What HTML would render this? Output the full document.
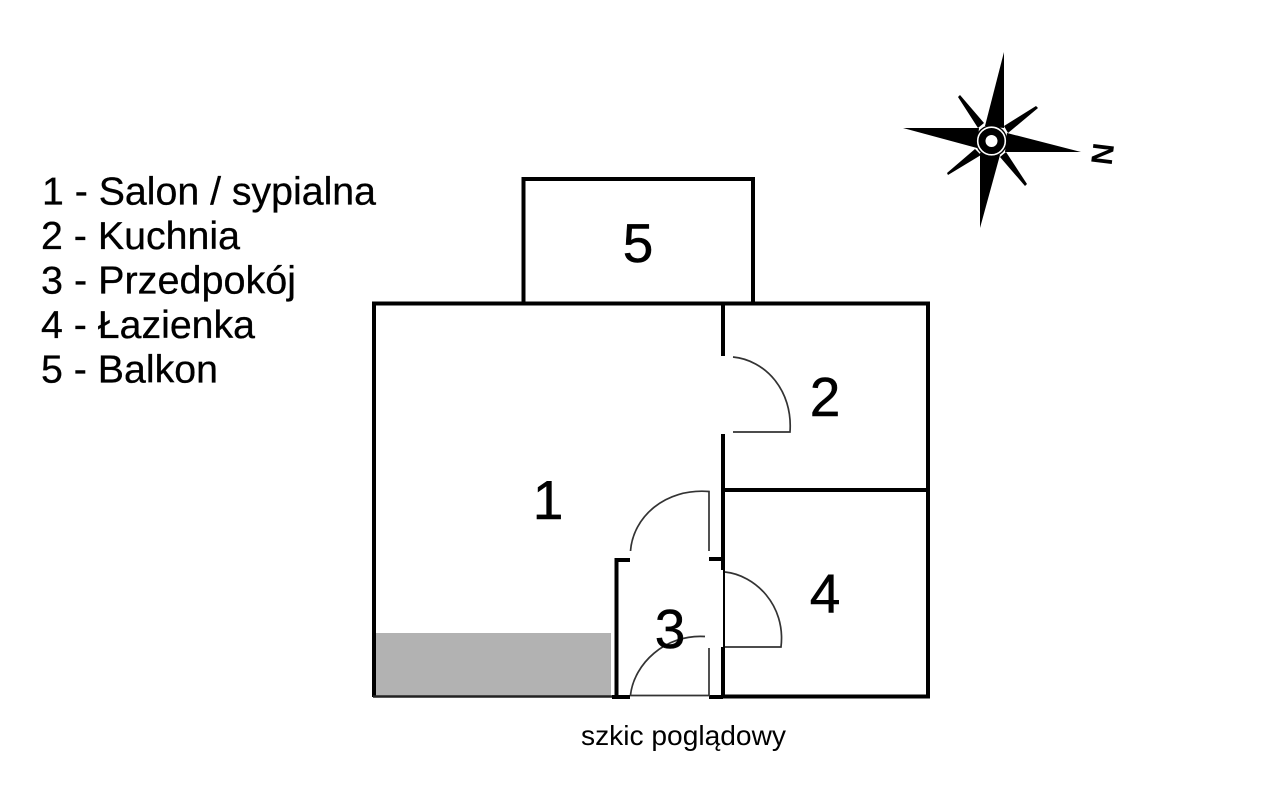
<!DOCTYPE html>
<html lang="pl">
<head>
<meta charset="utf-8">
<title>Szkic</title>
<style>
html,body{margin:0;padding:0;background:#fff;width:1280px;height:788px;overflow:hidden}
svg{display:block}
text{font-family:"Liberation Sans",sans-serif;fill:#000}
</style>
</head>
<body>
<svg width="1280" height="788" viewBox="0 0 1280 788" xmlns="http://www.w3.org/2000/svg">
  <rect x="375" y="633" width="236" height="63" fill="#b2b2b2"/>

  <g fill="none" stroke="#000" stroke-width="4">
    <rect x="523.5" y="179" width="229.5" height="124.5"/>
    <path d="M723 490H928M723 303.5H928V696.5H723"/>
    <path d="M374 697V303.5H723"/>
    <path d="M723 303V356"/>
    <path d="M723 434V570"/>
    <path d="M723 647V697"/>
    <path d="M630 560H616.500V697"/>
    <path d="M709 559H723"/>
    <path d="M612 697H630"/>
    <path d="M709 697H723"/>
  </g>
  <path d="M373 696.500H612" stroke="#222" stroke-width="2.500" fill="none"/>
  <path d="M724 570V648" stroke="#000" stroke-width="2" fill="none"/>

  <g fill="none" stroke="#333" stroke-width="1.700">
    <path d="M733 357C765 360 793 390 790 432H733"/>
    <path d="M630.500 551C633 517 665 488 709 491.500V551"/>
    <path d="M725 572C755 575 786 605 781 647H725"/>
    <path d="M630.500 695C634 664 665 634 705 636.500"/>
    <path d="M709 648V695.500H630"/>
  </g>

  <g fill="#000">
    <polygon points="1004,52 1004,128 985,126"/>
    <polygon points="903,128 979,128 977,148"/>
    <polygon points="1081,152 1005,152 1007,133"/>
    <polygon points="980,228 980,153 1000,155"/>
    <polygon points="958,97 960,95 984,123 978,128"/>
    <polygon points="1036,106 1038,108 1008,133 1004,126"/>
    <polygon points="947,173 948,175 981,155 975,149"/>
    <polygon points="1027,184 1025,186 1000,157 1006,152"/>
    <circle cx="991.500" cy="141" r="16"/>
  </g>
  <circle cx="991.500" cy="141" r="13.800" fill="none" stroke="#fff" stroke-width="1.600"/>
  <circle cx="991.500" cy="141" r="6" fill="#fff"/>
  <text transform="translate(1111.500,166) rotate(-83)" font-size="30" font-weight="700">N</text>

  <g font-size="39" stroke="#000" stroke-width="0.3">
    <text x="42" y="204.500" textLength="334" lengthAdjust="spacingAndGlyphs">1 - Salon / sypialna</text>
    <text x="41" y="249" textLength="199" lengthAdjust="spacingAndGlyphs">2 - Kuchnia</text>
    <text x="41" y="293.500" textLength="255" lengthAdjust="spacingAndGlyphs">3 - Przedpokój</text>
    <text x="41" y="338" textLength="214" lengthAdjust="spacingAndGlyphs">4 - Łazienka</text>
    <text x="41" y="382.500" textLength="177" lengthAdjust="spacingAndGlyphs">5 - Balkon</text>
  </g>

  <g font-size="55" text-anchor="middle" stroke="#000" stroke-width="0.5">
    <text x="638" y="262">5</text>
    <text x="825" y="416">2</text>
    <text x="548" y="519">1</text>
    <text x="670" y="648">3</text>
    <text x="825" y="612.500">4</text>
  </g>

  <text x="581" y="745" font-size="28" textLength="205" lengthAdjust="spacingAndGlyphs">szkic poglądowy</text>
</svg>
</body>
</html>
